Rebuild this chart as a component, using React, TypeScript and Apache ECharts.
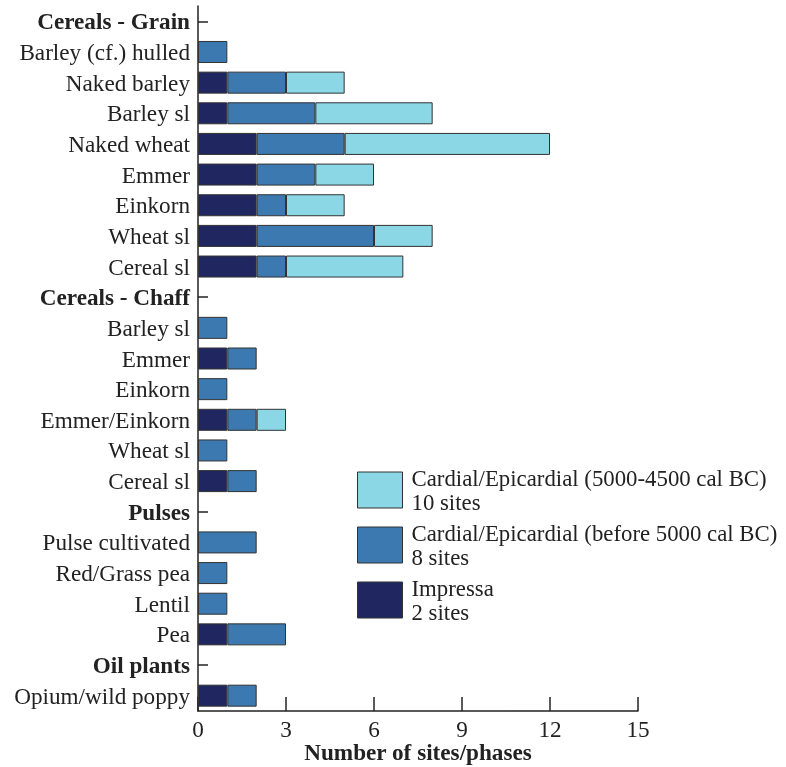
import React, { useEffect, useRef } from "react";
import * as echarts from "echarts";

const categories = [
  "Cereals - Grain",
  "Barley (cf.) hulled",
  "Naked barley",
  "Barley sl",
  "Naked wheat",
  "Emmer",
  "Einkorn",
  "Wheat sl",
  "Cereal sl",
  "Cereals - Chaff",
  "Barley sl ",
  "Emmer ",
  "Einkorn ",
  "Emmer/Einkorn",
  "Wheat sl ",
  "Cereal sl ",
  "Pulses",
  "Pulse cultivated",
  "Red/Grass pea",
  "Lentil",
  "Pea",
  "Oil plants",
  "Opium/wild poppy",
];

const headers = ["Cereals - Grain", "Cereals - Chaff", "Pulses", "Oil plants"];

const impressa = [null, 0, 1, 1, 2, 2, 2, 2, 2, null, 0, 1, 0, 1, 0, 1, null, 0, 0, 0, 1, null, 1];
const cardialBefore = [null, 1, 2, 3, 3, 2, 1, 4, 1, null, 1, 1, 1, 1, 1, 1, null, 2, 1, 1, 2, null, 1];
const cardialAfter = [null, 0, 2, 4, 7, 2, 2, 2, 4, null, 0, 0, 0, 1, 0, 0, null, 0, 0, 0, 0, null, 0];

const seriesNames = [
  "Impressa\n2 sites",
  "Cardial/Epicardial (before 5000 cal BC)\n8 sites",
  "Cardial/Epicardial (5000-4500 cal BC)\n10 sites",
];
const xTicks = { min: 0, max: 15, interval: 3 };

const COLORS = ["#20265f", "#3b79b0", "#8bd7e6"];
const FONT = "'Liberation Serif', 'Times New Roman', serif";
const FS = 23.2;

export default function App() {
  const ref = useRef<HTMLDivElement>(null);
  useEffect(() => {
    if (!ref.current) return;
    const chart = echarts.init(ref.current, undefined, { renderer: "svg" });
    const mk = (name: string, data: (number | null)[], i: number) => ({
      name,
      type: "bar",
      stack: "total",
      barWidth: 22,
      data: data.map((v) => (v === null || v === 0 ? "-" : v)),
      itemStyle: { color: COLORS[i], borderColor: "#333", borderWidth: 1 },
      emphasis: { disabled: true },
    });
    chart.setOption({
      animation: false,
      textStyle: { fontFamily: FONT },
      grid: {
        left: 198,
        right: 148,
        top: 6,
        bottom: 56,
        containLabel: false,
        outerBoundsMode: "none",
      },
      legend: {
        orient: "vertical",
        left: 352,
        top: 461,
        itemWidth: 45,
        itemHeight: 36,
        itemGap: 7,
        icon: "rect",
        data: [seriesNames[2], seriesNames[1], seriesNames[0]],
        selectedMode: false,
        textStyle: {
          fontFamily: FONT,
          fontSize: 22.8,
          color: "#222",
          lineHeight: 24,
          padding: [0, 0, 0, 4],
        },
        itemStyle: { borderColor: "#333", borderWidth: 1 },
      },
      xAxis: {
        type: "value",
        min: xTicks.min,
        max: xTicks.max,
        interval: xTicks.interval,
        splitLine: { show: false },
        axisLine: { show: true, lineStyle: { color: "#222", width: 1.5 } },
        axisTick: { show: true, inside: true, length: 14, lineStyle: { color: "#222", width: 1.5 } },
        axisLabel: { fontFamily: FONT, fontSize: FS, color: "#222", margin: 6 },
        name: "Number of sites/phases",
        nameLocation: "middle",
        nameGap: 30,
        nameMoveOverlap: false,
        nameTextStyle: {
          fontFamily: FONT,
          fontSize: FS,
          fontWeight: "bold",
          color: "#222",
          lineHeight: 22,
        },
      },
      yAxis: {
        type: "category",
        inverse: true,
        data: categories,
        axisLine: { show: true, lineStyle: { color: "#222", width: 1.5 } },
        axisTick: { show: true, inside: true, length: 10, alignWithLabel: true, lineStyle: { color: "#222", width: 1.5 } },
        axisLabel: {
          margin: 8,
          interval: 0,
          formatter: (v: string) =>
            headers.includes(v) ? `{b|${v}}` : `{n|${v.trim()}}`,
          rich: {
            b: { fontFamily: FONT, fontSize: FS, fontWeight: "bold", color: "#222" },
            n: { fontFamily: FONT, fontSize: FS, color: "#222" },
          },
        },
      },
      series: [
        mk(seriesNames[0], impressa, 0),
        mk(seriesNames[1], cardialBefore, 1),
        mk(seriesNames[2], cardialAfter, 2),
      ],
    });
    return () => chart.dispose();
  }, []);
  return (
    <div
      ref={ref}
      style={{ position: "fixed", left: 0, top: 0, width: 786, height: 767 }}
    />
  );
}
